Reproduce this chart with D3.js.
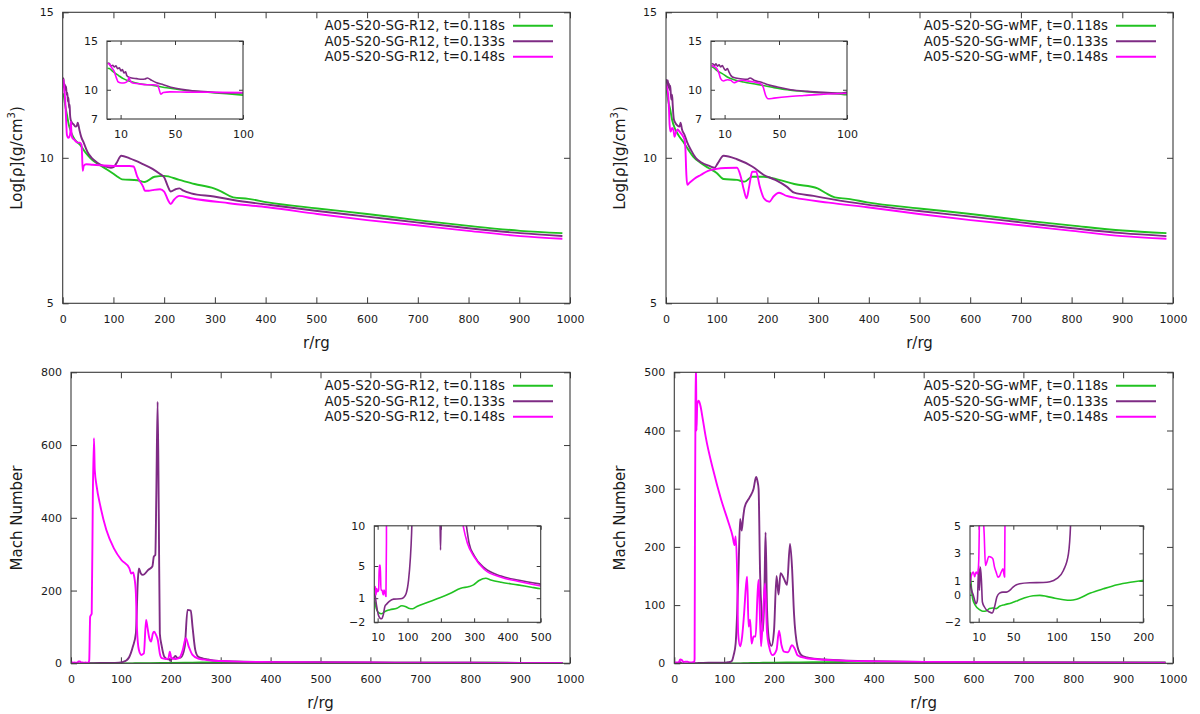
<!DOCTYPE html>
<html><head><meta charset="utf-8">
<script src="https://cdn.jsdelivr.net/npm/d3@7"></script>
<style>
body{margin:0;background:#fff;}
text{font-family:"DejaVu Sans",sans-serif;fill:#1a1a1a;}
</style>
</head><body>
<svg id="chart" width="1200" height="714"></svg>
<script>
// ---------------- DATA ----------------
const seriesTimes = ["t=0.118s", "t=0.133s", "t=0.148s"];
const modelR12 = "A05-S20-SG-R12";
const modelMF = "A05-S20-SG-wMF";
const seriesColors = ["#21c221", "#7e2b84", "#ff00ff"];

const xTicksMain = [0,100,200,300,400,500,600,700,800,900,1000];
const yTicksRho = [5,10,15];
const yTicksMachR12 = [0,200,400,600,800];
const yTicksMachMF = [0,100,200,300,400,500];
const xTicksInsetRho = [10,50,100];
const yTicksInsetRho = [7,10,15];
const xTicksInsetMachR12 = [10,100,200,300,400,500];
const yTicksInsetMachR12 = [-2,1,5,10];
const xTicksInsetMachMF = [10,50,100,150,200];
const yTicksInsetMachMF = [-2,0,1,3,5];

// log density, R12 run  [r/rg, log rho]
const rhoR12Green = [[0.5,12.2],[1.7,12.17],[4.7,11.83],[8.3,11.48],[12,11.14],[17,10.86],[24,10.62],[34,10.45],[44,10.2],[54,10.0],[63,9.86],[76,9.72],[88,9.59],[100,9.45],[108,9.35],[117,9.26],[147,9.23],[162,9.17],[181,9.35],[200,9.38],[230,9.24],[260,9.1],[298,8.95],[313,8.84],[336,8.64],[366,8.59],[404,8.47],[502,8.26],[600,8.07],[698,7.86],[800,7.66],[902,7.49],[985,7.41]];
const rhoR12Purple = [[0.5,12.75],[1.7,12.69],[2.9,12.41],[4.2,12.52],[5.4,12.34],[6.6,12.45],[7.8,12.17],[9.1,12.24],[10.3,11.93],[11.3,12.07],[12.5,11.72],[13.7,11.83],[14.5,11.48],[15.7,11.31],[18.1,11.21],[21.8,11.14],[25.5,11.07],[27.9,11.1],[29.7,11.21],[32.8,10.97],[36.5,10.72],[41.4,10.52],[48.8,10.2],[58.6,9.97],[68.4,9.83],[80.6,9.72],[95,9.66],[100,9.68],[105.7,9.81],[115.5,10.07],[132,9.98],[155,9.81],[177,9.62],[192,9.44],[200,9.33],[207.5,9.01],[213,8.84],[222.6,8.92],[230,8.95],[238,8.87],[253,8.78],[298,8.67],[336,8.55],[404,8.39],[502,8.17],[600,7.98],[698,7.78],[800,7.58],[902,7.41],[985,7.31]];
const rhoR12Magenta = [[0.5,12.7],[1.7,12.62],[3.4,12.28],[5.1,11.93],[7.1,11.14],[8.3,10.79],[10.8,10.69],[13.2,10.72],[15.2,10.9],[16.2,11.24],[16.9,10.97],[18.9,10.69],[23,10.62],[29.2,10.52],[34,10.52],[37,10.45],[38.2,10.1],[39.5,9.55],[41.4,9.72],[46.3,9.78],[58.6,9.76],[75.7,9.74],[100,9.72],[132,9.72],[139.6,9.7],[147,9.35],[158.5,9.01],[162,8.87],[170,8.87],[177,8.89],[192,8.92],[200,8.84],[207.5,8.55],[213,8.41],[219,8.55],[230,8.69],[253,8.61],[328,8.44],[404,8.3],[502,8.07],[600,7.86],[698,7.68],[800,7.49],[902,7.31],[985,7.22]];

// log density, wMF run
const rhoMFGreen = [[0.5,12.35],[1.7,12.28],[4.7,11.93],[8.3,11.66],[12,11.31],[17,11.03],[24,10.79],[34,10.55],[44,10.28],[54,10.03],[68,9.83],[83,9.66],[100,9.48],[113.5,9.27],[140,9.24],[155,9.18],[170,9.35],[193,9.35],[223,9.24],[253,9.1],[299,8.95],[314,8.8],[333,8.64],[359,8.59],[397,8.47],[499,8.26],[601,8.07],[700,7.86],[802,7.67],[900,7.5],[987,7.41]];
const rhoMFPurple = [[0.5,12.7],[1.7,12.62],[2.7,12.48],[3.7,12.66],[4.7,12.41],[5.9,12.55],[7.1,12.34],[8.3,12.48],[9.6,12.17],[10.8,12.0],[12,12.17],[13.2,11.83],[14.5,11.48],[15.7,11.31],[18.1,11.21],[23,11.1],[26.7,11.07],[28.7,11.21],[31.6,10.97],[36.5,10.79],[41.4,10.55],[48.8,10.28],[58.6,10.0],[70.8,9.83],[85.5,9.72],[96,9.66],[102,9.81],[113.5,10.07],[140,9.95],[170,9.7],[193,9.41],[215.6,9.24],[238,9.01],[253,8.8],[291,8.69],[329,8.57],[397,8.39],[499,8.17],[601,7.98],[700,7.78],[802,7.58],[900,7.41],[987,7.31]];
const rhoMFMagenta = [[0.5,12.5],[1.7,12.41],[3.4,12.28],[4.7,12.07],[5.9,11.66],[7.1,11.14],[9.1,10.9],[12,11.03],[14.5,10.97],[16.9,10.72],[19.4,10.86],[23,10.97],[26.7,10.9],[31.6,10.79],[36.5,10.62],[38.2,10.34],[40.2,9.41],[41.9,9.07],[46.3,9.14],[56,9.28],[68.4,9.41],[83,9.55],[100,9.62],[117,9.65],[140,9.66],[147.5,9.35],[153.6,8.89],[159,8.61],[164,9.01],[170,9.52],[177.8,9.52],[185,9.01],[193,8.61],[204,8.49],[212,8.67],[223,8.8],[238,8.69],[253,8.63],[321,8.46],[397,8.3],[499,8.07],[601,7.86],[700,7.68],[802,7.49],[900,7.31],[987,7.22]];

// Mach number, R12 run
const machR12Green = [[2,0.6],[6,-0.3],[12,-0.77],[22,-0.94],[32,-0.65],[47,-0.44],[68,-0.24],[83,0.05],[93,-0.03],[103,-0.24],[116,-0.32],[128,-0.03],[159,0.46],[199,1.08],[229,1.62],[260,2.24],[285,2.44],[298,2.65],[315,3.19],[335,3.47],[350,3.27],[381,2.98],[431,2.65],[472,2.36],[504,2.15],[600,1.85],[700,1.6],[800,1.4],[900,1.25],[985,1.15]];
const machR12Purple = [[1,1.6],[3,1.2],[7,0],[12,-1.06],[17,-1.47],[22,-1.56],[27,-1.06],[32,0],[37,0.26],[45,0.59],[58,0.88],[78,0.92],[88,1.08],[96,1.62],[103,3.27],[108,5.74],[112,9],[117,18],[124,46],[130,82],[134,229],[136,261],[140,247],[144,243],[155,257],[163,266],[166,293],[169,298],[171,467],[173.6,719],[176,400],[178,82],[182,46],[187,18],[194,11],[197,12],[199,7],[201,12],[205,14],[209,20],[213,15],[220,16],[228,46],[233.5,147],[240,145],[243.5,101],[249,37],[255,18],[265,13],[275,10.5],[285,7.8],[300,6.3],[330,4.8],[381,3.75],[431,3.25],[504,2.73],[600,2.2],[700,1.8],[800,1.5],[900,1.3],[985,1.2]];
const machR12Magenta = [[1,2.0],[3,2.44],[5,1.4],[7,2.2],[10,1.8],[13,2.0],[15,5.1],[18,5.1],[20,2.0],[23,2.0],[27,1.41],[29,2.0],[32,1.62],[35,1.2],[36.5,8],[38.4,128],[41.5,137],[43.8,467],[46,619],[47.6,532],[51.5,486],[59,431],[70.7,367],[86,316],[101,284],[117,261],[120.6,247],[124.4,250],[126.7,238],[130,193],[132,101],[136,37],[141,23],[146,27],[150.5,119],[153,101],[157,69],[160.5,60],[164,82],[166.7,87],[170.5,78],[174,64],[178,27],[182,14],[190,12],[195,13],[198,32],[201,15],[210,12],[216.6,14],[224,37],[230,69],[236,46],[243.5,23],[255,13],[267,10],[280,7.8],[300,6.15],[330,4.6],[381,3.6],[431,3.1],[504,2.5],[600,2.0],[700,1.65],[800,1.4],[900,1.2],[985,1.1]];

// Mach number, wMF run
const machMFGreen = [[0.4,1.64],[1.6,0.55],[3.1,-0.29],[6.2,-0.77],[10.9,-1.08],[14.7,-1.2],[18.6,-1.18],[22.5,-1.0],[26.4,-0.96],[30.2,-1.01],[34.1,-0.84],[39.9,-0.72],[47.7,-0.6],[55.4,-0.41],[63.2,-0.22],[72.9,-0.07],[80.6,-0.05],[88.4,-0.12],[98.1,-0.25],[108,-0.36],[116,-0.4],[123,-0.33],[139,0.12],[154,0.43],[170,0.72],[185,0.9],[201,1.04],[250,1.5],[300,2.0],[350,2.4],[400,2.5],[500,2.3],[700,1.8],[985,1.3]];
const machMFPurple = [[0.4,0.8],[1.9,0.31],[3.9,-0.05],[5.4,-0.41],[7,-0.65],[8.5,-0.41],[10.1,2.12],[10.9,0.31],[12,2.0],[13.2,1.04],[14.3,-0.53],[16.7,-0.89],[19.4,-1.13],[22.5,-1.25],[25.6,-1.33],[28.3,-0.89],[31,-0.17],[34.1,0.12],[38,0.19],[41.9,0.19],[45.7,0.31],[49.6,0.55],[57.4,0.8],[69,0.87],[84.5,0.89],[92.2,0.94],[100,1.16],[107.8,1.76],[113.6,2.96],[116.3,5.5],[119,14],[123,34],[126,86],[129,166],[132,248],[135,228],[138,250],[141,268],[151,285],[159,300],[164,320],[167,312],[169,300],[172,155],[175,85],[178,55],[181,140],[183,225],[186,92],[190,40],[195,30],[200,57],[205,150],[209,118],[213,155],[220,145],[226,135],[232,205],[236,166],[240,86],[247,29],[255,14],[266,10],[280,8],[300,6.5],[350,4.5],[400,3.5],[500,2.5],[700,1.6],[985,1.0]];
const machMFMagenta = [[0,0.8],[1.2,1.28],[2.3,1.52],[3.9,1.64],[5.4,1.3],[7,1.64],[8.9,1.5],[10.1,2.48],[11,5.5],[12.5,6.5],[14.5,6.0],[16.3,4.5],[17.8,2.12],[19.4,2.36],[21.7,2.77],[24.4,2.72],[26.4,2.6],[28.3,2.0],[30.2,1.64],[32.2,1.28],[34.1,1.35],[36,1.64],[38,1.88],[39.1,1.52],[39.9,1.28],[40.7,8],[41.5,255],[42.5,445],[43.5,520],[44.5,400],[46,445],[49,451],[53,440],[57,420],[63,389],[78,332],[94,281],[109,241],[117,218],[120.6,203],[123,218],[126,155],[128,52],[132,29],[136,46],[140,86],[143.6,132],[146,149],[149,63],[152,75],[155,34],[159,46],[163,46],[167,120],[169,143],[174,29],[178,86],[182,137],[186,52],[190,29],[197,14],[205,23],[210,56],[215,31],[220,20],[228,19],[236,31],[241,26],[247,14],[263,9],[280,7.5],[300,6],[350,4.2],[400,3.3],[500,2.4],[700,1.5],[985,1.0]];

// ---------------- DRAWING ----------------
const svg = d3.select("#chart");
const FRAME = "#3a3a3a";
let clipId = 0;

function plotArea(box, xDomain, yDomain, xTicks, yTicks, seriesList, o) {
  const x = d3.scaleLinear().domain(xDomain).range([box.l, box.r]);
  const y = d3.scaleLinear().domain(yDomain).range([box.b, box.t]);
  const g = svg.append("g");
  if (o.fill) g.append("rect").attr("x", box.l).attr("y", box.t)
      .attr("width", box.r - box.l).attr("height", box.b - box.t).attr("fill", "#fff");

  const ts = o.tick, fs = o.font;
  const styleAxis = sel => {
    sel.select(".domain").remove();
    sel.selectAll(".tick line").attr("stroke", FRAME).attr("stroke-width", 1);
    sel.selectAll(".tick text").attr("font-size", fs).attr("fill", "#1a1a1a")
       .attr("font-family", "DejaVu Sans, sans-serif");
  };
  g.append("g").attr("transform", `translate(0,${box.b})`)
    .call(d3.axisBottom(x).tickValues(xTicks).tickSize(-ts).tickPadding(o.xpad).tickFormat(d3.format("d"))).call(styleAxis);
  g.append("g").attr("transform", `translate(0,${box.t})`)
    .call(d3.axisTop(x).tickValues(xTicks).tickSize(-ts).tickFormat("")).call(styleAxis);
  g.append("g").attr("transform", `translate(${box.l},0)`)
    .call(d3.axisLeft(y).tickValues(yTicks).tickSize(-ts).tickPadding(o.ypad).tickFormat(d3.format("d"))).call(styleAxis);
  g.append("g").attr("transform", `translate(${box.r},0)`)
    .call(d3.axisRight(y).tickValues(yTicks).tickSize(-ts).tickFormat("")).call(styleAxis);

  const id = "clip" + (clipId++);
  svg.append("clipPath").attr("id", id).append("rect")
    .attr("x", box.l).attr("y", box.t).attr("width", box.r - box.l).attr("height", box.b - box.t);
  const line = d3.line().x(d => x(d[0])).y(d => y(d[1])).curve(d3.curveMonotoneX);
  const lg = g.append("g").attr("clip-path", `url(#${id})`);
  seriesList.forEach((s, i) => {
    lg.append("path").datum(s).attr("d", line).attr("fill", "none")
      .attr("stroke", seriesColors[i]).attr("stroke-width", o.lw)
      .attr("stroke-linejoin", "round");
  });
  g.append("rect").attr("x", box.l).attr("y", box.t)
    .attr("width", box.r - box.l).attr("height", box.b - box.t)
    .attr("fill", "none").attr("stroke", FRAME).attr("stroke-width", 1.1);
  return g;
}

function legend(box, model) {
  seriesTimes.forEach((t, i) => {
    const yy = box.t + 13.5 + i * 15.5;
    svg.append("text").attr("x", box.r - 65).attr("y", yy)
      .attr("text-anchor", "end").attr("dominant-baseline", "central")
      .attr("font-size", 13.3).text(`${model}, ${t}`);
    svg.append("line").attr("x1", box.r - 57).attr("x2", box.r - 17)
      .attr("y1", yy).attr("y2", yy).attr("stroke", seriesColors[i]).attr("stroke-width", 2);
  });
}

function xTitle(box, yy) {
  svg.append("text").attr("x", (box.l + box.r) / 2).attr("y", yy)
    .attr("text-anchor", "middle").attr("dominant-baseline", "central")
    .attr("font-size", 15).text("r/rg");
}

function yTitleRho(xx, yy) {
  const t = svg.append("text").attr("transform", `translate(${xx},${yy}) rotate(-90)`)
    .attr("text-anchor", "middle").attr("dominant-baseline", "central").attr("font-size", 15);
  t.append("tspan").text("Log[ρ](g/cm");
  t.append("tspan").attr("baseline-shift", "super").attr("font-size", 10).text("3");
  t.append("tspan").text(")");
}
function yTitleMach(xx, yy) {
  svg.append("text").attr("transform", `translate(${xx},${yy}) rotate(-90)`)
    .attr("text-anchor", "middle").attr("dominant-baseline", "central").attr("font-size", 15)
    .text("Mach Number");
}

const mainOpt = {tick: 6, font: 11, xpad: 12, ypad: 9, lw: 1.9};
const insetOpt = {tick: 4, font: 11, xpad: 11, ypad: 9, lw: 1.6, fill: true};

// Panel boxes
const boxTL = {l: 62.7, r: 570, t: 12.3, b: 303.3};
const boxTR = {l: 666, r: 1173, t: 12.3, b: 303.3};
const boxBL = {l: 71, r: 570, t: 372.3, b: 663.3};
const boxBR = {l: 674.3, r: 1173, t: 372.3, b: 663.3};
const inTL = {l: 107, r: 243, t: 41, b: 119};
const inTR = {l: 711, r: 847, t: 41, b: 119};
const inBL = {l: 374.3, r: 540.7, t: 525.8, b: 622.3};
const inBR = {l: 970, r: 1143.3, t: 525.8, b: 622.3};

// Top-left
plotArea(boxTL, [0,1000], [5,15], xTicksMain, yTicksRho, [rhoR12Green, rhoR12Purple, rhoR12Magenta], mainOpt);
legend(boxTL, modelR12);
plotArea(inTL, [0,100], [7,15], xTicksInsetRho, yTicksInsetRho, [rhoR12Green, rhoR12Purple, rhoR12Magenta], insetOpt);
xTitle(boxTL, 343);
yTitleRho(17, 158);

// Top-right
plotArea(boxTR, [0,1000], [5,15], xTicksMain, yTicksRho, [rhoMFGreen, rhoMFPurple, rhoMFMagenta], mainOpt);
legend(boxTR, modelMF);
plotArea(inTR, [0,100], [7,15], xTicksInsetRho, yTicksInsetRho, [rhoMFGreen, rhoMFPurple, rhoMFMagenta], insetOpt);
xTitle(boxTR, 343);
yTitleRho(620, 158);

// Bottom-left
plotArea(boxBL, [0,1000], [0,800], xTicksMain, yTicksMachR12, [machR12Green, machR12Purple, machR12Magenta], mainOpt);
legend(boxBL, modelR12);
plotArea(inBL, [0,500], [-2,10], xTicksInsetMachR12, yTicksInsetMachR12, [machR12Green, machR12Purple, machR12Magenta], insetOpt);
xTitle(boxBL, 703);
yTitleMach(17, 518);

// Bottom-right
plotArea(boxBR, [0,1000], [0,500], xTicksMain, yTicksMachMF, [machMFGreen, machMFPurple, machMFMagenta], mainOpt);
legend(boxBR, modelMF);
plotArea(inBR, [0,200], [-2,5], xTicksInsetMachMF, yTicksInsetMachMF, [machMFGreen, machMFPurple, machMFMagenta], insetOpt);
xTitle(boxBR, 703);
yTitleMach(620, 518);
</script>
</body></html>
